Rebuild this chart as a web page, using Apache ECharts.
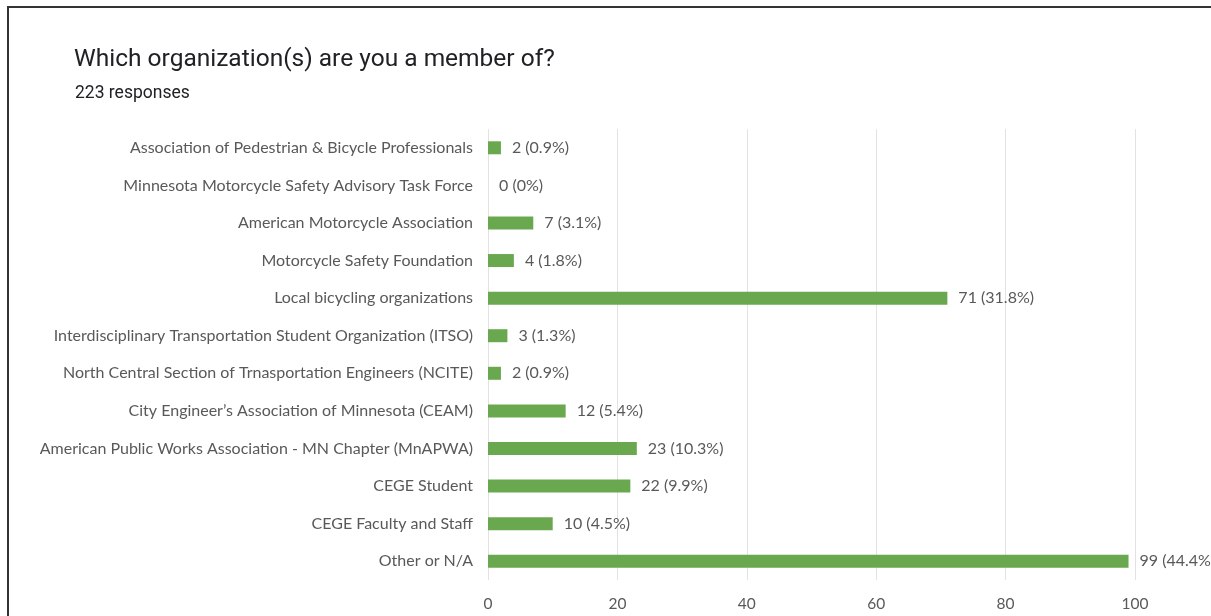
<!DOCTYPE html>
<html>
<head>
<meta charset="utf-8">
<script src="https://cdn.jsdelivr.net/npm/echarts@6/dist/echarts.min.js"></script>
<style>
html,body{margin:0;padding:0;background:#fff;}
#chart{width:1211px;height:616px;}
</style>
</head>
<body>
<div id="chart"></div>
<script>
const titleText = "Which organization(s) are you a member of?";
const subtitleText = "223 responses";
const categories = [
  "Association of Pedestrian & Bicycle Professionals",
  "Minnesota Motorcycle Safety Advisory Task Force",
  "American Motorcycle Association",
  "Motorcycle Safety Foundation",
  "Local bicycling organizations",
  "Interdisciplinary Transportation Student Organization (ITSO)",
  "North Central Section of Trnasportation Engineers (NCITE)",
  "City Engineer’s Association of Minnesota (CEAM)",
  "American Public Works Association - MN Chapter (MnAPWA)",
  "CEGE Student",
  "CEGE Faculty and Staff",
  "Other or N/A"
];
const counts = [2, 0, 7, 4, 71, 3, 2, 12, 23, 22, 10, 99];
const percentLabels = ["0.9%", "0%", "3.1%", "1.8%", "31.8%", "1.3%", "0.9%", "5.4%", "10.3%", "9.9%", "4.5%", "44.4%"];
const xTicks = [0, 20, 40, 60, 80, 100];

const chart = echarts.init(document.getElementById('chart'), null, {renderer: 'canvas'});
const labelFont = "Lato, 'Open Sans', sans-serif";
chart.setOption({
  backgroundColor: '#ffffff',
  animation: false,
  title: [
    {text: titleText, left: 74, top: 47, padding: 0, textStyle: {fontFamily: 'Roboto, sans-serif', fontSize: 24.5, fontWeight: 'normal', color: '#202124'}},
    {text: subtitleText, left: 75, top: 85, padding: 0, textStyle: {fontFamily: 'Roboto, sans-serif', fontSize: 17.5, fontWeight: 'normal', color: '#202124'}}
  ],
  graphic: [
    {type: 'polyline', shape: {points: [[8, 616], [8, 7], [1211, 7]]}, style: {stroke: '#333', lineWidth: 2, fill: null}}
  ],
  grid: {left: 488, right: 76, top: 129, bottom: 36, containLabel: false},
  xAxis: {
    type: 'value', min: xTicks[0], max: xTicks[xTicks.length - 1], interval: 20,
    axisLine: {show: false}, axisTick: {show: false},
    splitLine: {show: true, lineStyle: {color: '#e2e2e2', width: 1}},
    axisLabel: {margin: 16, fontFamily: labelFont, fontSize: 15.5, color: '#595959'}
  },
  yAxis: {
    type: 'category', data: categories, inverse: true,
    axisLine: {show: false}, axisTick: {show: false}, splitLine: {show: false},
    axisLabel: {margin: 15, fontFamily: labelFont, fontSize: 16, color: '#595959'}
  },
  series: [{
    type: 'bar',
    data: counts,
    barWidth: 13,
    itemStyle: {color: '#6aa84f'},
    label: {
      show: true, position: 'right', distance: 11,
      fontFamily: labelFont, fontSize: 16, color: '#595959',
      formatter: p => counts[p.dataIndex] + ' (' + percentLabels[p.dataIndex] + ')'
    }
  }]
});
</script>
</body>
</html>
